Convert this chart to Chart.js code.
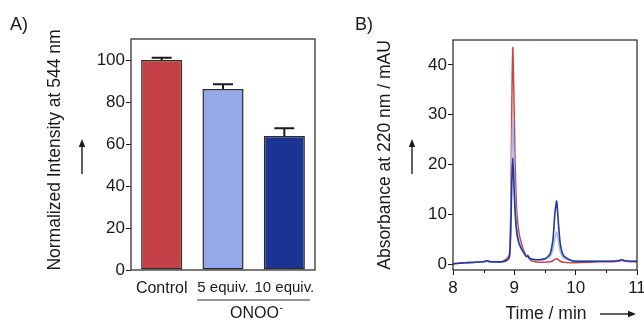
<!DOCTYPE html>
<html>
<head>
<meta charset="utf-8">
<script src="https://cdn.jsdelivr.net/npm/chart.js@4.4.0/dist/chart.umd.min.js"></script>
<style>
    html, body { margin: 0; padding: 0; background: #fff; }
    #wrap { position: relative; width: 644px; height: 323px; overflow: hidden; }
    canvas { position: absolute; top: 0; }
    #chartA { left: 0; }
    #chartB { left: 322px; }
</style>
</head>
<body>
<div id="wrap">
    <canvas id="chartA" width="322" height="323"></canvas>
    <canvas id="chartB" width="322" height="323"></canvas>
</div>
<script>
// Panel A data: normalized intensity bars
const barLabels = ['Control', '5 equiv.', '10 equiv.'];
const barValues = [100, 86.2, 63.8];
const barErrors = [1.1, 2.2, 3.7];
const barColors = ['#c24046', '#95a8ea', '#1b3494'];
const yTicksA = [0, 20, 40, 60, 80, 100];

// Panel B data: HPLC traces (time in min, absorbance in mAU)
const timeMin = [8.00, 8.10, 8.20, 8.30, 8.40, 8.50, 8.55, 8.60, 8.70, 8.80,
    8.88, 8.92, 8.94, 8.96, 8.975, 8.99, 9.01, 9.03, 9.05, 9.08,
    9.12, 9.16, 9.20, 9.22, 9.25, 9.30, 9.40, 9.50, 9.58, 9.63,
    9.66, 9.69, 9.72, 9.75, 9.80, 9.90, 10.00, 10.20, 10.40, 10.60,
    10.70, 10.75, 10.80, 10.90, 11.00];
const absControl = [0.1, 0.2, 0.3, 0.35, 0.4, 0.5, 0.6, 0.5, 0.4, 0.5,
    1.2, 2.0, 10, 33, 43.5, 36, 22, 13, 9, 6,
    4, 2.5, 1.6, 1.8, 1.0, 0.6, 0.4, 0.4, 0.5, 0.7,
    1.0, 1.1, 0.9, 0.6, 0.4, 0.3, 0.3, 0.4, 0.5, 0.5,
    0.6, 0.8, 0.6, 0.5, 0.5];
const abs5equiv = [0.1, 0.2, 0.3, 0.35, 0.45, 0.5, 0.7, 0.55, 0.5, 0.5,
    0.8, 1.5, 7, 22, 29, 23, 14, 9, 6.5, 4.5,
    3.2, 2.2, 1.5, 1.7, 1.2, 1.0, 0.9, 1.0, 1.5, 3,
    5, 6.5, 4.5, 2.5, 1.3, 0.8, 0.6, 0.6, 0.6, 0.6,
    0.7, 0.9, 0.7, 0.6, 0.6];
const abs10equiv = [0.1, 0.2, 0.3, 0.35, 0.45, 0.5, 0.7, 0.55, 0.5, 0.5,
    0.8, 1.5, 6, 17, 21.3, 17, 11, 7.5, 5.5, 4,
    3, 2.2, 1.5, 1.7, 1.2, 1.0, 0.9, 1.1, 2, 5,
    10, 12.7, 8, 4, 1.8, 0.9, 0.6, 0.6, 0.6, 0.6,
    0.7, 0.9, 0.7, 0.6, 0.6];
const yTicksB = [0, 10, 20, 30, 40];
const xTicksB = [8, 9, 10, 11];
const xMinorB = [8.5, 9.5, 10.5];

const FONT = '"Liberation Sans", Arial, sans-serif';
const INK = '#1a1a1a';
Chart.defaults.font.family = FONT;
Chart.defaults.color = INK;

// Helper: draw a filled arrow
function drawArrow(ctx, x1, y1, x2, y2) {
    const ang = Math.atan2(y2 - y1, x2 - x1);
    const head = 8, half = 3.2;
    ctx.save();
    ctx.strokeStyle = INK;
    ctx.fillStyle = INK;
    ctx.lineWidth = 1.4;
    ctx.beginPath();
    ctx.moveTo(x1, y1);
    ctx.lineTo(x2 - head * Math.cos(ang), y2 - head * Math.sin(ang));
    ctx.stroke();
    ctx.beginPath();
    ctx.moveTo(x2, y2);
    ctx.lineTo(x2 - head * Math.cos(ang) - half * Math.sin(ang), y2 - head * Math.sin(ang) + half * Math.cos(ang));
    ctx.lineTo(x2 - head * Math.cos(ang) + half * Math.sin(ang), y2 - head * Math.sin(ang) - half * Math.cos(ang));
    ctx.closePath();
    ctx.fill();
    ctx.restore();
}

function drawBox(chart) {
    const a = chart.chartArea;
    const ctx = chart.ctx;
    ctx.save();
    ctx.strokeStyle = '#333';
    ctx.lineWidth = 1.3;
    ctx.strokeRect(a.left, a.top, a.right - a.left, a.bottom - a.top);
    ctx.restore();
}

function drawVerticalTitle(ctx, text, x, y) {
    ctx.save();
    ctx.translate(x, y);
    ctx.rotate(-Math.PI / 2);
    ctx.font = '17.5px ' + FONT;
    ctx.fillStyle = INK;
    ctx.textAlign = 'center';
    ctx.textBaseline = 'middle';
    ctx.fillText(text, 0, 0);
    ctx.restore();
}

// keep x axes from adding side padding for overflowing labels
function fitX(s) {
    s.height = 53;
    s.paddingLeft = 0;
    s.paddingRight = 0;
}

// Panel A extras: error bars, box, titles
const panelAPlugin = {
    id: 'panelA',
    afterDatasetsDraw(chart) {
        const ctx = chart.ctx;
        const meta = chart.getDatasetMeta(0);
        const yScale = chart.scales.y;
        ctx.save();
        ctx.strokeStyle = INK;
        ctx.lineWidth = 2;
        meta.data.forEach((bar, i) => {
            const top = yScale.getPixelForValue(barValues[i] + barErrors[i]);
            const base = yScale.getPixelForValue(barValues[i]);
            ctx.beginPath();
            ctx.moveTo(bar.x, base);
            ctx.lineTo(bar.x, top);
            ctx.moveTo(bar.x - 10, top);
            ctx.lineTo(bar.x + 10, top);
            ctx.stroke();
        });
        ctx.restore();
        drawBox(chart);
    },
    afterDraw(chart) {
        const ctx = chart.ctx;
        ctx.save();
        ctx.fillStyle = INK;
        ctx.font = '18px ' + FONT;
        ctx.textBaseline = 'middle';
        ctx.fillText('A)', 10, 25);
        // ONOO- bracket
        ctx.strokeStyle = '#333';
        ctx.lineWidth = 1.2;
        ctx.beginPath();
        ctx.moveTo(197, 300);
        ctx.lineTo(310, 300);
        ctx.stroke();
        ctx.font = '16px ' + FONT;
        ctx.textAlign = 'left';
        ctx.fillText('ONOO', 230, 314);
        const w = ctx.measureText('ONOO').width;
        ctx.font = '10px ' + FONT;
        ctx.fillText('-', 230 + w + 0.5, 308);
        ctx.restore();
        drawVerticalTitle(ctx, 'Normalized Intensity at 544 nm', 55, 150);
        drawArrow(ctx, 82, 174, 82, 139);
    }
};

// Panel B extras: box, minor ticks, titles
const panelBPlugin = {
    id: 'panelB',
    afterDatasetsDraw(chart) {
        drawBox(chart);
        const ctx = chart.ctx;
        const xs = chart.scales.x;
        const bottom = chart.chartArea.bottom;
        ctx.save();
        ctx.strokeStyle = INK;
        ctx.lineWidth = 1;
        xMinorB.forEach(v => {
            const px = Math.round(xs.getPixelForValue(v)) + 0.5;
            ctx.beginPath();
            ctx.moveTo(px, bottom);
            ctx.lineTo(px, bottom + 3);
            ctx.stroke();
        });
        ctx.restore();
    },
    afterDraw(chart) {
        const ctx = chart.ctx;
        ctx.save();
        ctx.fillStyle = INK;
        ctx.font = '18px ' + FONT;
        ctx.textBaseline = 'middle';
        ctx.fillText('B)', 33, 25);
        ctx.font = '17.5px ' + FONT;
        ctx.textAlign = 'center';
        ctx.fillText('Time / min', 224, 314);
        ctx.restore();
        drawVerticalTitle(ctx, 'Absorbance at 220 nm / mAU', 63, 155);
        drawArrow(ctx, 90, 174, 90, 139);
        drawArrow(ctx, 278, 314, 314, 314);
    }
};

new Chart(document.getElementById('chartA'), {
    type: 'bar',
    data: {
        labels: barLabels,
        datasets: [{
            data: barValues,
            backgroundColor: barColors,
            borderColor: '#2b2b2b',
            borderWidth: 1.5,
            borderSkipped: false,
            categoryPercentage: 1,
            barPercentage: 0.67
        }]
    },
    options: {
        responsive: false,
        animation: false,
        devicePixelRatio: 1,
        layout: { padding: { left: 0, top: 39, right: 7, bottom: 0 } },
        plugins: { legend: { display: false }, tooltip: { enabled: false } },
        scales: {
            x: {
                grid: { display: false, drawTicks: false, tickLength: 0 },
                border: { display: false },
                ticks: {
                    padding: 9,
                    color: INK,
                    maxRotation: 0,
                    minRotation: 0,
                    autoSkip: false,
                    font: ctx => ({ family: FONT, size: ctx.index === 0 ? 16 : 15 })
                },
                afterFit: fitX
            },
            y: {
                min: 0,
                max: 110,
                afterBuildTicks: s => { s.ticks = yTicksA.map(v => ({ value: v })); },
                grid: { drawOnChartArea: false, tickLength: 5, color: INK, tickWidth: 1 },
                border: { display: false },
                ticks: { padding: 1, color: INK, font: { family: FONT, size: 17 } },
                afterFit: s => { s.width = 131; }
            }
        }
    },
    plugins: [panelAPlugin]
});

function toPoints(ys) {
    return timeMin.map((t, i) => ({ x: t, y: ys[i] }));
}

// higher "order" is drawn first, so the 10 equiv. trace ends up on top
new Chart(document.getElementById('chartB'), {
    type: 'line',
    data: {
        datasets: [
            { data: toPoints(absControl), order: 3, borderColor: '#c4474d', borderWidth: 1.5, pointRadius: 0, tension: 0.2 },
            { data: toPoints(abs5equiv), order: 2, borderColor: '#a9b9ef', borderWidth: 1.5, pointRadius: 0, tension: 0.2 },
            { data: toPoints(abs10equiv), order: 1, borderColor: '#1f3a9e', borderWidth: 1.6, pointRadius: 0, tension: 0.2 }
        ]
    },
    options: {
        responsive: false,
        animation: false,
        devicePixelRatio: 1,
        layout: { padding: { left: 0, top: 40, right: 7, bottom: 0 } },
        plugins: { legend: { display: false }, tooltip: { enabled: false } },
        scales: {
            x: {
                type: 'linear',
                min: 8,
                max: 11,
                afterBuildTicks: s => { s.ticks = xTicksB.map(v => ({ value: v })); },
                grid: { drawOnChartArea: false, tickLength: 5, color: INK },
                border: { display: false },
                ticks: { padding: 3, color: INK, maxRotation: 0, font: { family: FONT, size: 17 } },
                afterFit: fitX
            },
            y: {
                min: -1.15,
                max: 45,
                afterBuildTicks: s => { s.ticks = yTicksB.map(v => ({ value: v })); },
                grid: { drawOnChartArea: false, tickLength: 5, color: INK },
                border: { display: false },
                ticks: { padding: 1, color: INK, font: { family: FONT, size: 17 } },
                afterFit: s => { s.width = 131; }
            }
        }
    },
    plugins: [panelBPlugin]
});
</script>
</body>
</html>
